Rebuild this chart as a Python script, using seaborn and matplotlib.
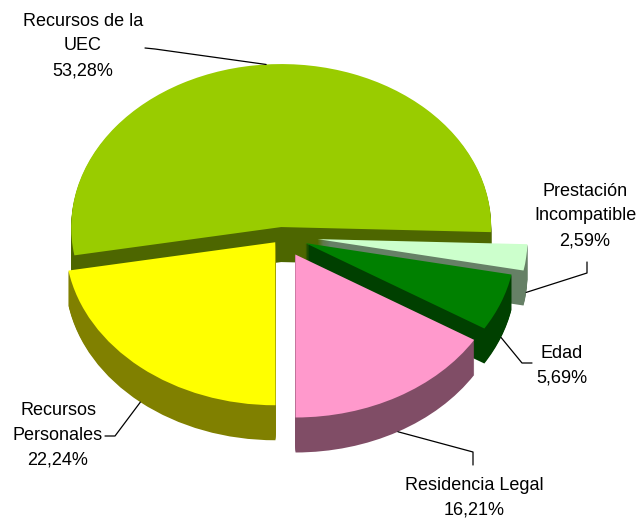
import numpy as np
import seaborn as sns
import matplotlib
matplotlib.use('Agg')
import matplotlib.pyplot as plt
from matplotlib.transforms import Affine2D
from matplotlib.colors import to_rgb

# datos
categorias = ['Recursos de la\nUEC', 'Prestación\nIncompatible', 'Edad',
              'Residencia Legal', 'Recursos\nPersonales']
porcentajes = [53.28, 2.59, 5.69, 16.21, 22.24]
colores = ['#99CC00', '#CCFFCC', '#008000', '#FF99CC', '#FFFF00']
separacion = [0.055, 0.17, 0.12, 0.13, 0.05]

# geometria de la tarta 3D (pixeles)
ANCHO, ALTO = 637, 524
CX, CY = 282, 236
RX, RY = 210, 163
PROF = 35
rango = [0, 1, 2, 4, 3]  # orden de dibujo de cada porcion (fondo -> frente)

# posiciones de las etiquetas y codos de las lineas guia
pos_texto = [(83, 46), (585, 216), (562, 366), (474, 498), (58, 435)]
guia_texto = [(145, 48), (587, 262), (532, 363), (473, 465), (105, 436)]
guia_codo = [(155, 49), (587, 273), (522, 363), (473, 452), (115, 436)]

sns.set_theme(style='white')
plt.rcParams['font.family'] = ['Liberation Sans', 'DejaVu Sans']

fig = plt.figure(figsize=(ANCHO / 100, ALTO / 100), dpi=100)
ax = fig.add_axes([0, 0, 1, 1])


def transformacion(z):
    return Affine2D().scale(RX, RY).translate(CX, -CY - z) + ax.transData


oscuros = [tuple(0.5 * c for c in to_rgb(col)) for col in colores]
cunas_sup = None
for z in range(PROF, -1, -1):
    cols = colores if z == 0 else oscuros
    cunas, _ = ax.pie(porcentajes, colors=cols, explode=separacion, startangle=190,
                      counterclock=False, radius=1, wedgeprops=dict(linewidth=0))
    for i, w in enumerate(cunas):
        w.set_transform(transformacion(z))
        w.set_zorder(10 * rango[i] + (2 if z == 0 else 1))
    if z == 0:
        cunas_sup = cunas

ax.set_aspect('auto')
ax.set_xlim(0, ANCHO)
ax.set_ylim(-ALTO, 0)
ax.axis('off')

# etiquetas con lineas guia
for i, w in enumerate(cunas_sup):
    medio = np.deg2rad((w.theta1 + w.theta2) / 2)
    px, py = transformacion(0).transform((w.center[0] + np.cos(medio), w.center[1] + np.sin(medio)))
    px, py = ax.transData.inverted().transform((px, py))
    if np.sin(medio) < 0:
        py -= PROF
    tx, ty = guia_texto[i]
    ex, ey = guia_codo[i]
    ax.plot([tx, ex, px], [-ty, -ey, py], color='black', lw=0.9, zorder=100)
    texto = f"{categorias[i]}\n{porcentajes[i]:.2f}%".replace('.', ',')
    ax.text(pos_texto[i][0], -pos_texto[i][1], texto, ha='center', va='center',
            fontsize=13, linespacing=1.6, color='black', zorder=101)

plt.savefig('out.png', dpi=100)
